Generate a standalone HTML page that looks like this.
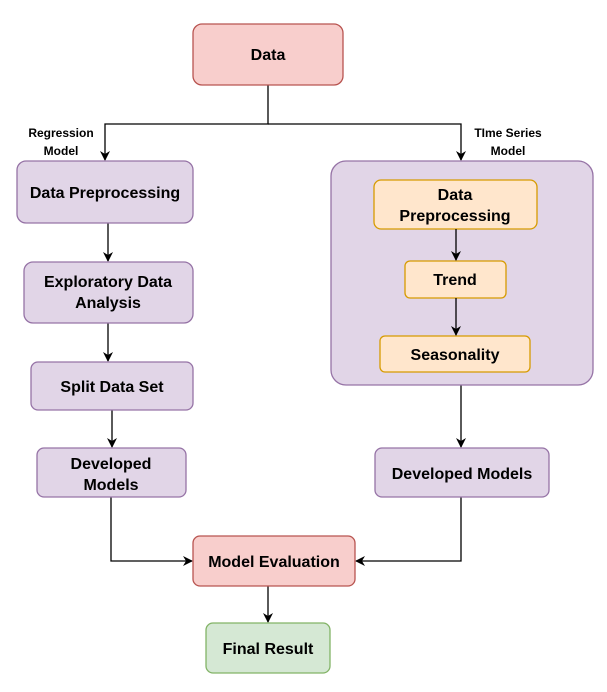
<!DOCTYPE html>
<html><head><style>body{margin:0;background:#fff}svg{display:block}text{font-family:"Liberation Sans",Arial,sans-serif;font-weight:bold;text-anchor:middle;fill:#000}</style></head>
<body>
<svg width="607" height="692" viewBox="0 0 607 692">
<defs><marker id="a" markerWidth="10" markerHeight="10" refX="9" refY="5" orient="auto" markerUnits="userSpaceOnUse"><path d="M0,0 L10,5 L0,10 L3,5 Z" fill="#000"/></marker></defs>
<g fill="none" stroke="#000" stroke-width="1.3">
<path d="M268,85 V124 H105 V160" marker-end="url(#a)"/>
<path d="M268,124 H461 V160" marker-end="url(#a)"/>
<path d="M108,223 V261" marker-end="url(#a)"/>
<path d="M108,323 V361" marker-end="url(#a)"/>
<path d="M112,410 V447" marker-end="url(#a)"/>
<path d="M111,497 V561 H192" marker-end="url(#a)"/>
<path d="M461,497 V561 H356" marker-end="url(#a)"/>
<path d="M461,385 V447" marker-end="url(#a)"/>
<path d="M268,586 V622" marker-end="url(#a)"/>
</g>
<g stroke-width="1.3">
<rect x="193" y="24" width="150" height="61" rx="9" fill="#f8cecc" stroke="#b85450"/>
<rect x="17" y="161" width="176" height="62" rx="9" fill="#e1d5e7" stroke="#9673a6"/>
<rect x="24" y="262" width="169" height="61" rx="9" fill="#e1d5e7" stroke="#9673a6"/>
<rect x="31" y="362" width="162" height="48" rx="7" fill="#e1d5e7" stroke="#9673a6"/>
<rect x="37" y="448" width="149" height="49" rx="7" fill="#e1d5e7" stroke="#9673a6"/>
<rect x="331" y="161" width="262" height="224" rx="15" fill="#e1d5e7" stroke="#9673a6"/>
<rect x="374" y="180" width="163" height="49" rx="7" fill="#ffe6cc" stroke="#d79b00"/>
<rect x="405" y="261" width="101" height="37" rx="5" fill="#ffe6cc" stroke="#d79b00"/>
<rect x="380" y="336" width="150" height="36" rx="5" fill="#ffe6cc" stroke="#d79b00"/>
<rect x="375" y="448" width="174" height="49" rx="7" fill="#e1d5e7" stroke="#9673a6"/>
<rect x="193" y="536" width="162" height="50" rx="7" fill="#f8cecc" stroke="#b85450"/>
<rect x="206" y="623" width="124" height="50" rx="7" fill="#d5e8d4" stroke="#82b366"/>
</g>
<g fill="none" stroke="#000" stroke-width="1.3">
<path d="M456,229 V260" marker-end="url(#a)"/>
<path d="M456,298 V335" marker-end="url(#a)"/>
</g>
<g font-size="16">
<text x="268" y="60">Data</text>
<text x="105" y="198">Data Preprocessing</text>
<text x="108" y="287">Exploratory Data</text>
<text x="108" y="308">Analysis</text>
<text x="112" y="392">Split Data Set</text>
<text x="111" y="469">Developed</text>
<text x="111" y="490">Models</text>
<text x="455" y="200">Data</text>
<text x="455" y="221">Preprocessing</text>
<text x="455" y="285">Trend</text>
<text x="455" y="360">Seasonality</text>
<text x="462" y="479">Developed Models</text>
<text x="274" y="567">Model Evaluation</text>
<text x="268" y="654">Final Result</text>
</g>
<g font-size="12">
<text x="61" y="137">Regression</text>
<text x="61" y="155">Model</text>
<text x="508" y="137">TIme Series</text>
<text x="508" y="155">Model</text>
</g>
</svg>
</body></html>
